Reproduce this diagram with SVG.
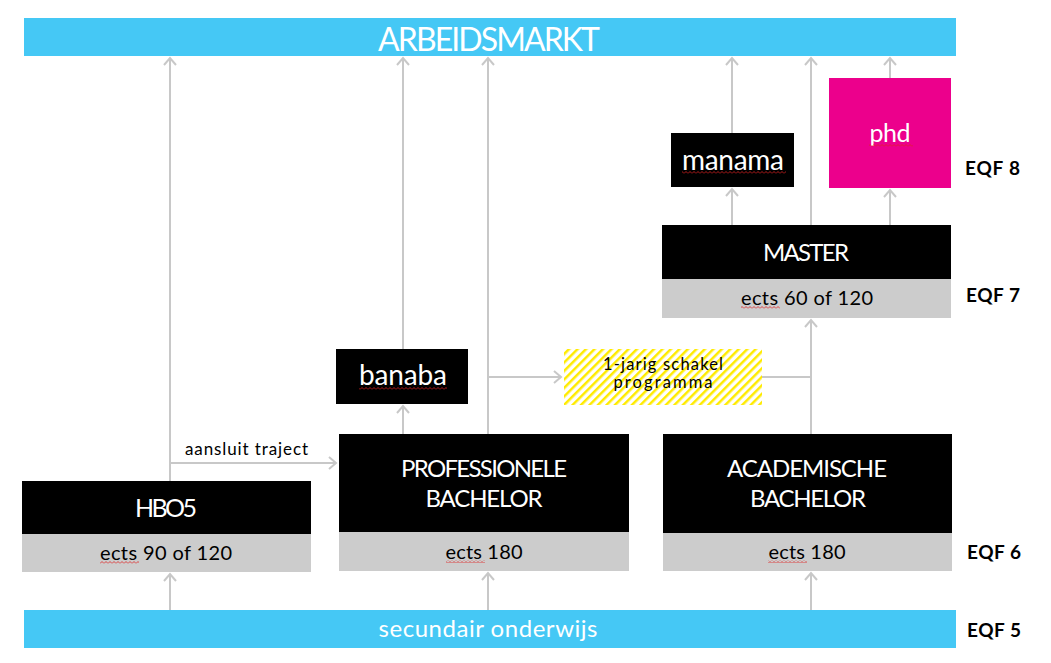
<svg xmlns="http://www.w3.org/2000/svg" width="1051" height="663" viewBox="0 0 1051 663">
<style>
.bar{fill:#45C8F5}
.blk{fill:#000}
.gry{fill:#CCCCCC}
.t{font-family:Lato,"Noto Sans",sans-serif;fill:#fff;text-anchor:middle}
.e{font-family:Lato,"Open Sans",sans-serif;fill:#000;text-anchor:middle;font-size:20px}
.s{font-family:Lato,"Open Sans",sans-serif;fill:#000}
.q{font-family:Lato,"Open Sans",sans-serif;fill:#000;font-weight:bold;font-size:19px}
.c{fill:none;stroke:#C8C8C8;stroke-width:2}
.sq{fill:url(#sq)}
</style>
<defs>
<marker id="ar" markerUnits="userSpaceOnUse" markerWidth="14" markerHeight="14" refX="9" refY="7" orient="auto">
<path d="M2,1 L9,7 L2,13" fill="none" stroke="#C8C8C8" stroke-width="2"/>
</marker>
<pattern id="hatch" patternUnits="userSpaceOnUse" width="6" height="6" patternTransform="rotate(45)">
<rect width="6" height="6" fill="#fff"/>
<rect x="0" y="0" width="2.5" height="6" fill="#FFEB00"/>
</pattern>
<pattern id="sq" patternUnits="userSpaceOnUse" width="4" height="3">
<path d="M0,2.5 L2,0.5 L4,2.5" fill="none" stroke="#E02020" stroke-width="0.8"/>
</pattern>
</defs>

<g id="arbeidsmarkt">
<rect class="bar" x="24" y="18" width="932" height="38"/>
<text class="t" x="489" y="51" font-size="32" textLength="222">ARBEIDSMARKT</text>
</g>

<g id="secundair">
<rect class="bar" x="24" y="610" width="932" height="38"/>
<text class="t" x="488" y="637" font-size="24" textLength="219">secundair onderwijs</text>
</g>

<g id="connectors">
<line class="c" x1="170" y1="481" x2="170" y2="58" marker-end="url(#ar)"/>
<line class="c" x1="170" y1="463" x2="336" y2="463" marker-end="url(#ar)"/>
<line class="c" x1="170" y1="610" x2="170" y2="574" marker-end="url(#ar)"/>
<line class="c" x1="403" y1="349" x2="403" y2="58" marker-end="url(#ar)"/>
<line class="c" x1="403" y1="434" x2="403" y2="406" marker-end="url(#ar)"/>
<line class="c" x1="488" y1="434" x2="488" y2="58" marker-end="url(#ar)"/>
<line class="c" x1="488" y1="377" x2="561" y2="377" marker-end="url(#ar)"/>
<line class="c" x1="488" y1="610" x2="488" y2="573" marker-end="url(#ar)"/>
<line class="c" x1="811" y1="610" x2="811" y2="573" marker-end="url(#ar)"/>
<line class="c" x1="811" y1="434" x2="811" y2="320" marker-end="url(#ar)"/>
<line class="c" x1="762" y1="377" x2="811" y2="377"/>
<line class="c" x1="732" y1="133" x2="732" y2="58" marker-end="url(#ar)"/>
<line class="c" x1="732" y1="225" x2="732" y2="189" marker-end="url(#ar)"/>
<line class="c" x1="811" y1="225" x2="811" y2="58" marker-end="url(#ar)"/>
<line class="c" x1="890" y1="78" x2="890" y2="58" marker-end="url(#ar)"/>
<line class="c" x1="890" y1="225" x2="890" y2="190" marker-end="url(#ar)"/>
<text class="s" x="185" y="455" font-size="17" textLength="123">aansluit traject</text>
</g>

<g id="phd">
<rect x="829" y="78" width="122" height="110" fill="#EC008C"/>
<text class="t" x="890" y="142" font-size="25" textLength="41">phd</text>
<rect class="sq" x="869" y="144" width="44" height="3"/>
</g>

<g id="manama">
<rect class="blk" x="671" y="133" width="123" height="54"/>
<text class="t" x="733" y="170" font-size="28" textLength="102">manama</text>
<rect class="sq" x="682" y="171" width="104" height="3"/>
</g>

<g id="master">
<rect class="blk" x="662" y="225" width="289" height="54"/>
<rect class="gry" x="662" y="279" width="289" height="39"/>
<text class="t" x="806" y="261" font-size="24" textLength="86">MASTER</text>
<text class="e" x="807" y="305" textLength="132">ects 60 of 120</text>
<rect class="sq" x="741" y="306" width="39" height="3"/>
</g>

<g id="banaba">
<rect class="blk" x="336" y="349" width="132" height="55"/>
<text class="t" x="403" y="385" font-size="28" textLength="88">banaba</text>
<rect class="sq" x="359" y="387" width="88" height="3"/>
</g>

<g id="schakel">
<rect x="564" y="349" width="198" height="56" fill="url(#hatch)"/>
<text class="e" x="663" y="370" font-size="16" style="font-size:16.5px" textLength="120">1-jarig schakel</text>
<text class="e" x="663" y="388" font-size="16" style="font-size:16.5px" textLength="99">programma</text>
</g>

<g id="hbo5">
<rect class="blk" x="22" y="481" width="289" height="53"/>
<rect class="gry" x="22" y="534" width="289" height="38"/>
<text class="t" x="166" y="517" font-size="25" textLength="62">HBO5</text>
<text class="e" x="166" y="560" textLength="132">ects 90 of 120</text>
<rect class="sq" x="100" y="561" width="39" height="3"/>
</g>

<g id="prof-bachelor">
<rect class="blk" x="339" y="434" width="290" height="98"/>
<rect class="gry" x="339" y="532" width="290" height="39"/>
<text class="t" x="484" y="477" font-size="24" textLength="166">PROFESSIONELE</text>
<text class="t" x="484" y="507" font-size="24" textLength="117">BACHELOR</text>
<text class="e" x="484" y="559" textLength="77">ects 180</text>
<rect class="sq" x="446" y="560" width="39" height="3"/>
</g>

<g id="acad-bachelor">
<rect class="blk" x="663" y="434" width="289" height="99"/>
<rect class="gry" x="663" y="533" width="289" height="38"/>
<text class="t" x="807" y="477" font-size="24" textLength="160">ACADEMISCHE</text>
<text class="t" x="808" y="507" font-size="24" textLength="116">BACHELOR</text>
<text class="e" x="807" y="559" textLength="77">ects 180</text>
<rect class="sq" x="768" y="560" width="39" height="3"/>
</g>

<g id="eqf">
<text class="q" x="965" y="175" textLength="55">EQF 8</text>
<text class="q" x="966" y="302" textLength="54">EQF 7</text>
<text class="q" x="967" y="559" textLength="54">EQF 6</text>
<text class="q" x="967" y="637" textLength="54">EQF 5</text>
</g>
</svg>
